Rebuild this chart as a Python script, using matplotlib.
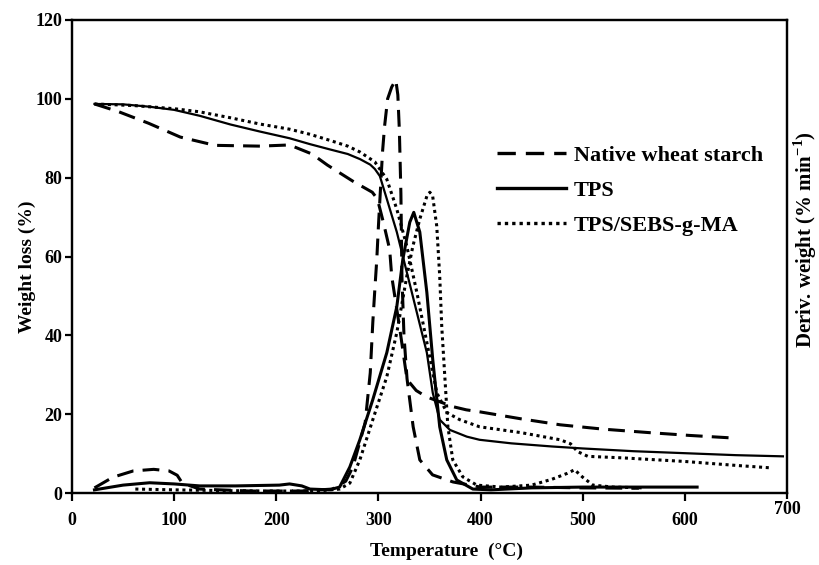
import matplotlib
matplotlib.use("Agg")
import matplotlib.pyplot as plt
from matplotlib.lines import Line2D

plt.rcParams['font.family'] = ['Liberation Serif', 'DejaVu Serif']
plt.rcParams['font.weight'] = 'bold'
plt.rcParams['mathtext.fontset'] = 'custom'
plt.rcParams['mathtext.rm'] = 'Liberation Serif'
plt.rcParams['mathtext.bf'] = 'Liberation Serif:bold'

# ---------------- data ----------------
# Native wheat starch - weight loss (TG)
native_tg_T = [22, 45, 75, 106, 140, 184, 213, 235, 250, 275, 294, 299, 305, 311, 313,
               321, 328, 337, 347, 373, 386, 399, 440, 478, 520, 566, 605, 644]
native_tg_w = [98.7, 96.8, 93.8, 90.3, 88.2, 88.0, 88.3, 86.0, 83.2, 79.1, 76.3, 74.6, 68.5,
               61.8, 55.0, 41.5, 28.8, 26.0, 24.4, 21.9, 21.1, 20.6, 18.8, 17.3, 16.2, 15.3,
               14.6, 14.0]
# Native wheat starch - derivative (DTG)
native_dtg_T = [22, 40, 60, 80, 95, 103, 108, 125, 175, 225, 255, 268, 275, 287, 292, 294.5,
                296.5, 298.4, 300, 304, 306, 309, 313, 317, 319, 320.5, 322, 323, 325, 328,
                334, 340.5, 353, 373, 400, 450, 500, 555]
native_dtg_d = [1.3, 4.0, 5.6, 6.0, 5.6, 4.5, 2.5, 1.0, 0.5, 0.5, 1.0, 3.0, 6.6, 17.8, 30.5,
                43.3, 51.7, 59.3, 67.7, 86.5, 93.0, 100.0, 103.0, 104.8, 101.0, 92.0, 76.0,
                55.0, 40.0, 29.0, 16.8, 8.4, 4.6, 2.8, 1.5, 1.5, 1.3, 1.2]

# TPS - TG
tps_tg_T = [22, 50, 76, 100, 125, 155, 184, 213, 233, 252, 270, 282, 292, 296.5, 301.4,
            308.2, 318, 327.8, 337.6, 347.4, 353.2, 360, 370, 386.5, 399, 430, 470, 500,
            550, 600, 650, 696]
tps_tg_w = [98.7, 98.6, 98.0, 97.2, 95.7, 93.5, 91.7, 90.0, 88.5, 87.2, 86.0, 84.7, 83.3,
            82.2, 80.4, 74.6, 66.2, 56.0, 45.8, 35.6, 25.4, 18.6, 16.0, 14.3, 13.5, 12.6,
            11.8, 11.3, 10.6, 10.1, 9.6, 9.3]
# TPS - DTG
tps_dtg_T = [22, 50, 76, 100, 125, 160, 203, 213, 225, 233, 252, 262, 272, 281.8, 294.5,
             308.2, 318, 323.9, 330.7, 334.6, 340.5, 347.4, 353.2, 360, 366.9, 376.7, 392.4,
             410, 450, 500, 560, 612]
tps_dtg_d = [0.8, 2.0, 2.6, 2.3, 1.8, 1.8, 2.0, 2.3, 1.8, 1.0, 0.8, 1.5, 6.6, 13.5, 23.7,
             35.6, 47.3, 59.3, 68.7, 71.2, 66.2, 50.9, 33.8, 16.8, 8.4, 3.3, 1.0, 0.8, 1.3,
             1.5, 1.5, 1.5]

# TPS/SEBS-g-MA - TG
sebs_tg_T = [22, 60, 100, 125, 155, 184, 213, 233, 252, 270, 282, 296.5, 308.2, 318, 327.8,
             337.6, 347.4, 357.2, 367, 379.6, 399, 440, 478, 488, 495, 505, 540, 600, 650, 683]
sebs_tg_w = [98.7, 98.3, 97.5, 96.7, 95.2, 93.6, 92.3, 91.0, 89.5, 88.0, 86.5, 84.0, 79.6,
             72.0, 62.6, 50.9, 38.2, 25.4, 20.4, 18.6, 16.8, 15.3, 13.5, 12.5, 10.5, 9.3,
             8.9, 8.0, 7.0, 6.4]
# TPS/SEBS-g-MA - DTG
sebs_dtg_T = [62, 100, 150, 200, 240, 262, 272, 281.8, 294.5, 308.2, 318, 327.8, 333.7,
              340.5, 347.4, 350.3, 353, 357.1, 360, 362, 365, 368, 372.8, 382.6, 396.3, 420,
              450, 470, 485, 492, 500, 510, 530, 560]
sebs_dtg_d = [1.0, 0.8, 0.6, 0.5, 0.5, 1.0, 2.5, 8.4, 18.6, 29.5, 40.7, 55.0, 62.6, 69.5,
              75.3, 76.3, 75.5, 67.7, 55.0, 42.2, 29.5, 16.8, 8.4, 4.1, 2.0, 1.5, 2.0, 3.5,
              5.0, 5.9, 4.0, 2.0, 1.5, 1.3]

labels = ["Native wheat starch", "TPS", "TPS/SEBS-g-MA"]
x_ticks = [0, 100, 200, 300, 400, 500, 600]
y_ticks = [0, 20, 40, 60, 80, 100, 120]

# ---------------- figure ----------------
fig = plt.figure(figsize=(8.19, 5.65), dpi=100)
ax = fig.add_axes([72 / 819, 1 - 493 / 565, (787 - 72) / 819, (493 - 20) / 565])

dash = (0, (5.5, 3.0))
dot = (0, (1.0, 1.2))
lw_tg = 1.6
lw_dtg = 2.2

ax.plot(native_tg_T, native_tg_w, color='black', lw=lw_dtg, linestyle=dash)
ax.plot(native_dtg_T, native_dtg_d, color='black', lw=lw_dtg, linestyle=dash)
ax.plot(tps_tg_T, tps_tg_w, color='black', lw=lw_tg, linestyle='-')
ax.plot(tps_dtg_T, tps_dtg_d, color='black', lw=lw_dtg, linestyle='-')
ax.plot(sebs_tg_T, sebs_tg_w, color='black', lw=lw_dtg, linestyle=dot)
ax.plot(sebs_dtg_T, sebs_dtg_d, color='black', lw=lw_dtg, linestyle=dot)

ax.set_xlim(0, 700)
ax.set_ylim(0, 120)
ax.set_xticks(x_ticks)
ax.set_xticklabels([str(v) for v in x_ticks])
ax.set_xticks([700], minor=True)
ax.set_xticklabels(['700'], minor=True)
ax.set_yticks(y_ticks)
ax.set_yticklabels([str(v) for v in y_ticks])

for s in ax.spines.values():
    s.set_linewidth(1.6)
ax.tick_params(axis='x', which='major', direction='out', length=6, width=1.6,
               labelsize=13, pad=7.5)
ax.tick_params(axis='x', which='minor', direction='out', length=4, width=1.6,
               labelsize=13, pad=2)
ax.tick_params(axis='y', direction='out', length=5, width=1.6, labelsize=13, pad=2,
               right=False)
for t in ax.get_xticklabels(which='both') + ax.get_yticklabels():
    t.set_fontweight('bold')

ax.set_xlabel("Temperature  (°C)", fontsize=14, fontweight='bold')
ax.xaxis.set_label_coords((446 - 72) / 715, (493 - 543) / 473)
ax.set_ylabel("Weight loss (%)", fontsize=14, fontweight='bold')
ax.yaxis.set_label_coords((36 - 72) / 715, (493 - 267) / 473)

ax2 = ax.twinx()
ax2.set_ylim(0, 120)
ax2.set_yticks([])
ax2.set_ylabel(r"Deriv. weight (% min$^{\mathbf{-1}}$)", fontsize=15, fontweight='bold')
ax2.yaxis.set_label_coords(1 + (791 - 787) / 715, (493 - 240) / 473)
for s in ax2.spines.values():
    s.set_linewidth(1.6)

handles = [Line2D([], [], color='black', lw=2.4, linestyle=dash),
           Line2D([], [], color='black', lw=2.4, linestyle='-'),
           Line2D([], [], color='black', lw=2.4, linestyle=dot)]
leg = ax.legend(handles, labels, loc='upper left',
                bbox_to_anchor=((497 - 72) / 715, (493 - 145) / 473),
                frameon=False, borderpad=0, borderaxespad=0, handlelength=3.1,
                handletextpad=0.35, labelspacing=0.66,
                prop={'family': 'Liberation Serif', 'weight': 'bold', 'size': 16})

fig.savefig("out.png", dpi=100)
